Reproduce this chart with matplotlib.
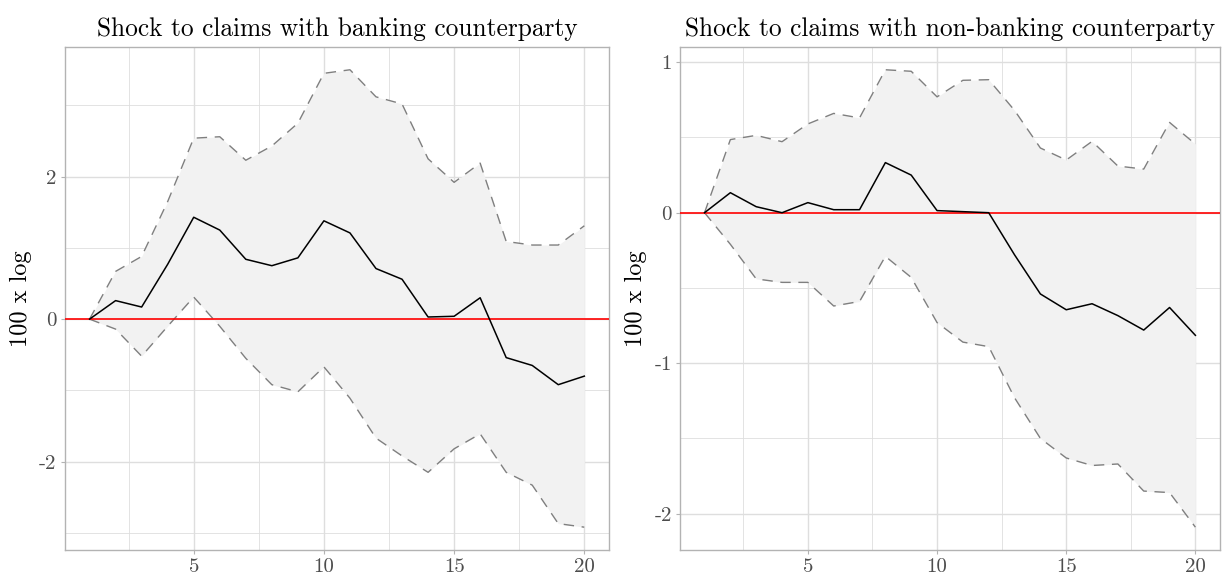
import matplotlib
matplotlib.use("Agg")
import matplotlib.pyplot as plt
from matplotlib.ticker import FixedLocator

horizon = list(range(1, 21))

# Shock to claims with banking counterparty
bank_mean = [0.0, 0.26, 0.17, 0.77, 1.43, 1.25, 0.84, 0.75, 0.86, 1.38,
             1.21, 0.71, 0.56, 0.03, 0.04, 0.30, -0.54, -0.65, -0.92, -0.80]
bank_upper = [0.0, 0.67, 0.88, 1.65, 2.54, 2.56, 2.23, 2.43, 2.75, 3.45,
              3.50, 3.12, 3.02, 2.25, 1.92, 2.19, 1.09, 1.04, 1.04, 1.31]
bank_lower = [0.0, -0.14, -0.52, -0.10, 0.31, -0.10, -0.55, -0.92, -1.02, -0.67,
              -1.11, -1.67, -1.92, -2.15, -1.82, -1.61, -2.15, -2.33, -2.87, -2.92]

# Shock to claims with non-banking counterparty
nonbank_mean = [0.0, 0.133, 0.04, 0.0, 0.067, 0.02, 0.02, 0.333, 0.25, 0.014,
                0.007, 0.0, -0.28, -0.54, -0.645, -0.605, -0.684, -0.78, -0.63, -0.815]
nonbank_upper = [0.0, 0.486, 0.514, 0.472, 0.59, 0.66, 0.63, 0.95, 0.94, 0.77,
                 0.88, 0.884, 0.68, 0.43, 0.35, 0.474, 0.31, 0.29, 0.60, 0.456]
nonbank_lower = [0.0, -0.21, -0.44, -0.463, -0.463, -0.62, -0.59, -0.29, -0.43, -0.73,
                 -0.86, -0.89, -1.23, -1.50, -1.63, -1.68, -1.67, -1.85, -1.86, -2.09]

titles = ["Shock to claims with banking counterparty",
          "Shock to claims with non-banking counterparty"]
y_major = [[-2, 0, 2], [-2, -1, 0, 1]]
y_minor = [[-3, -1, 1, 3], [-1.5, -0.5, 0.5]]
x_major = [5, 10, 15, 20]
x_minor = [2.5, 7.5, 12.5, 17.5]

plt.rcParams["font.family"] = ["cmr10", "DejaVu Serif"]
plt.rcParams["axes.unicode_minus"] = False

BORDER = "#b3b3b3"
GRID = "#dedede"
TEXT = "#4d4d4d"


def draw_panel(ax, mean, lower, upper, title, majors, minors):
    ax.fill_between(horizon, lower, upper, color="#f2f2f2", lw=0, zorder=1)
    ax.plot(horizon, upper, color="#7f7f7f", lw=1.0, ls=(0, (7.5, 5.5)), zorder=2)
    ax.plot(horizon, lower, color="#7f7f7f", lw=1.0, ls=(0, (7.5, 5.5)), zorder=2)
    ax.axhline(0, color="red", lw=1.2, zorder=3)
    ax.plot(horizon, mean, color="black", lw=1.1, zorder=4)

    lo = min(lower)
    hi = max(upper)
    pad = (hi - lo) * 0.05
    ax.set_ylim(lo - pad, hi + pad)
    ax.set_xlim(1 - 0.95, 20 + 0.95)

    ax.yaxis.set_major_locator(FixedLocator(majors))
    ax.yaxis.set_minor_locator(FixedLocator(minors))
    ax.set_yticklabels([f"{v:g}" for v in majors])
    ax.xaxis.set_major_locator(FixedLocator(x_major))
    ax.xaxis.set_minor_locator(FixedLocator(x_minor))
    ax.set_xticklabels([str(v) for v in x_major])

    ax.grid(which="major", color=GRID, lw=1.0, zorder=0)
    ax.grid(which="minor", color=GRID, lw=0.6, zorder=0)
    ax.set_axisbelow(True)
    for s in ax.spines.values():
        s.set_color(BORDER)
        s.set_linewidth(1.0)
    ax.tick_params(which="major", length=3, color=BORDER, width=0.8,
                   labelsize=15, labelcolor=TEXT, pad=3)
    ax.tick_params(which="minor", length=0)
    ax.set_title(title, fontsize=18.3, pad=8)
    ax.set_ylabel("100 x log", fontsize=17.5, labelpad=5)


fig = plt.figure(figsize=(12.23, 5.79), dpi=100)
ax1 = fig.add_axes([0.053, 0.050, 0.445, 0.869])
ax2 = fig.add_axes([0.556, 0.050, 0.4415, 0.869])

draw_panel(ax1, bank_mean, bank_lower, bank_upper, titles[0], y_major[0], y_minor[0])
draw_panel(ax2, nonbank_mean, nonbank_lower, nonbank_upper, titles[1], y_major[1], y_minor[1])

fig.savefig("out.png", dpi=100)
